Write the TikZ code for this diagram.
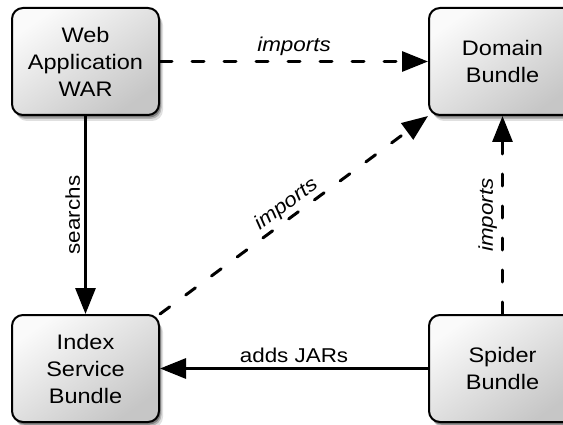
\documentclass[tikz,border=0pt]{standalone}
\usepackage{fontspec}
\setmainfont{Liberation Sans}[FakeStretch=1.12]
\usepackage{tikz}
\usetikzlibrary{arrows.meta}
\usetikzlibrary{positioning}
\usetikzlibrary{shadows}

\tikzset{
  bundle/.style={draw, line width=2pt, rounded corners=11pt, align=center,
    minimum width=147pt, minimum height=107pt, inner sep=0pt,
    font=\fontsize{21}{27}\selectfont,
    top color=gray!4, bottom color=gray!45, shading angle=35,
    drop shadow={shadow xshift=4pt, shadow yshift=-6pt, fill=black, opacity=0.12},
    drop shadow={shadow xshift=2.5pt, shadow yshift=-4pt, fill=black, opacity=0.2},
    drop shadow={shadow xshift=1.5pt, shadow yshift=-2.5pt, fill=black, opacity=0.3}},
  uses/.style={line width=3pt, -{Triangle[length=26pt,width=20pt]}},
  imports/.style={uses, line cap=round, dash pattern=on 12pt off 20pt},
  lbl/.style={font=\fontsize{20}{24}\selectfont, inner sep=4pt},
  ilbl/.style={lbl, font=\fontsize{20}{24}\selectfont\itshape}
}

\begin{document}
\begin{tikzpicture}[x=1pt,y=1pt]
  \useasboundingbox (0,0) rectangle (563,424);
  \node[bundle] (war) at (85.5,362.5) {Web\\Application\\WAR};
  \node[bundle, right=268pt of war] (domain) {Domain\\Bundle};
  \node[bundle, below=198pt of war] (index) {Index\\Service\\Bundle};
  \node[bundle, right=268pt of index] (spider) {Spider\\Bundle};

  \draw[imports] (war) -- node[ilbl, above] {imports} (domain);
  \draw[uses] (war) -- node[lbl, rotate=90, above] {searchs} (index);
  \draw[imports] (index.north east) -- node[ilbl, sloped, above, inner sep=2pt] {imports} (domain.south west);
  \draw[imports] (spider) -- node[ilbl, rotate=90, above] {imports} (domain);
  \draw[uses] (spider) -- node[lbl, above] {adds JARs} (index);
\end{tikzpicture}
\end{document}
